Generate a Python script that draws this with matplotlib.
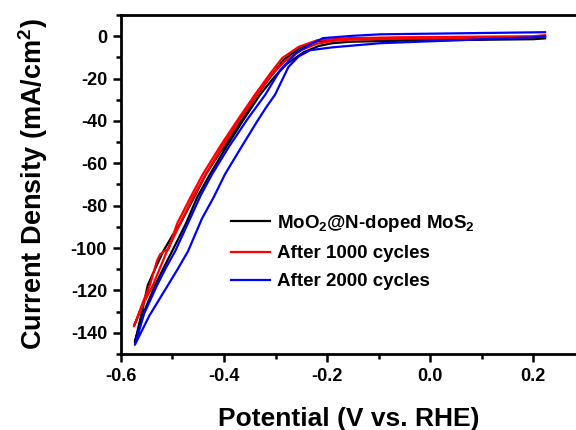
import numpy as np
import matplotlib
matplotlib.use("Agg")
import matplotlib.pyplot as plt
from matplotlib.ticker import MultipleLocator

plt.rcParams['font.family'] = ['Liberation Sans', 'DejaVu Sans']
plt.rcParams['font.weight'] = 'bold'
plt.rcParams['mathtext.fontset'] = 'custom'
plt.rcParams['mathtext.rm'] = 'Liberation Sans:bold'
plt.rcParams['mathtext.it'] = 'Liberation Sans:bold'
plt.rcParams['mathtext.bf'] = 'Liberation Sans:bold'

# sweep down (right branch) then back up (left branch), V vs RHE / mA cm-2
black_x = [0.223, 0.200, 0.050, -0.058, -0.155, -0.190, -0.216, -0.245, -0.278, -0.305, -0.330,
           -0.362, -0.395, -0.427, -0.452, -0.474, -0.501, -0.534, -0.555, -0.573,
           -0.560, -0.548, -0.534, -0.518, -0.500, -0.485, -0.460, -0.435, -0.400, -0.367,
           -0.336, -0.306, -0.284, -0.252, -0.217, -0.160, -0.058, 0.200, 0.223]
black_y = [-1.0, -1.4, -1.8, -2.1, -2.6, -3.3, -4.6, -7.5, -13.0, -20.0, -27.6,
           -39.3, -52.0, -65.1, -76.0, -88.5, -101.6, -117.6, -130.0, -144.5,
           -131.0, -117.6, -110.0, -101.6, -94.0, -88.5, -77.0, -65.1, -52.0, -39.3,
           -27.6, -18.0, -11.0, -5.5, -2.3, -1.3, -1.0, -0.8, -0.5]

red_x = [0.223, 0.200, 0.050, -0.058, -0.155, -0.190, -0.219, -0.250, -0.283, -0.310, -0.336,
         -0.369, -0.405, -0.435, -0.460, -0.485, -0.511, -0.538, -0.558, -0.575,
         -0.570, -0.558, -0.544, -0.530, -0.524, -0.516, -0.508, -0.491, -0.465, -0.441,
         -0.405, -0.373, -0.340, -0.310, -0.287, -0.255, -0.219, -0.155, -0.058, 0.200, 0.223]
red_y = [0.0, -0.5, -0.9, -1.2, -1.6, -2.3, -3.5, -6.5, -12.0, -19.0, -27.6,
         -39.3, -53.0, -65.1, -76.0, -88.5, -101.6, -117.6, -127.0, -137.0,
         -134.0, -126.0, -117.6, -106.0, -103.0, -101.5, -100.5, -88.5, -76.0, -65.1,
         -51.0, -39.3, -27.6, -17.5, -10.3, -5.0, -1.9, -0.9, -0.5, 0.0, 0.5]

blue_x = [0.223, 0.200, -0.097, -0.188, -0.233, -0.255, -0.275, -0.301, -0.318, -0.336, -0.368,
          -0.398, -0.420, -0.443, -0.470, -0.490, -0.509, -0.545, -0.573,
          -0.555, -0.530, -0.512, -0.495, -0.466, -0.445, -0.423, -0.390, -0.355,
          -0.320, -0.291, -0.260, -0.230, -0.208, -0.150, -0.097, 0.223]
blue_y = [0.0, -0.5, -3.3, -5.2, -6.6, -9.5, -14.5, -27.6, -33.5, -40.3, -53.0,
          -65.1, -76.0, -86.2, -101.6, -110.0, -117.6, -132.0, -145.7,
          -131.0, -117.6, -109.0, -101.6, -86.2, -75.0, -65.1, -52.0, -39.3,
          -27.6, -16.0, -8.0, -3.5, -0.9, 0.2, 0.9, 1.9]

labels = ['MoO$_2$@N-doped MoS$_2$', 'After 1000 cycles', 'After 2000 cycles']

fig = plt.figure(figsize=(5.76, 4.30), dpi=100)
ax = fig.add_axes([0.210, 0.177, 0.79, 0.788])

ax.plot(black_x, black_y, color='black', lw=1.6, label=labels[0])
ax.plot(red_x, red_y, color='red', lw=1.6, label=labels[1])
ax.plot(blue_x, blue_y, color='blue', lw=1.6, label=labels[2])

ax.set_xlim(-0.6, 0.283)
ax.set_ylim(-150, 10)
ax.xaxis.set_minor_locator(MultipleLocator(0.1))
ax.yaxis.set_minor_locator(MultipleLocator(10))
ax.set_xticks([-0.6, -0.4, -0.2, 0.0, 0.2])
ax.set_xticklabels(['-0.6', '-0.4', '-0.2', '0.0', '0.2'])
ax.set_yticks([0, -20, -40, -60, -80, -100, -120, -140])
ax.set_yticklabels(['0', '-20', '-40', '-60', '-80', '-100', '-120', '-140'])
ax.tick_params(which='major', direction='out', length=6, width=1.8, labelsize=13, pad=4)
ax.tick_params(which='minor', direction='out', length=3.5, width=1.8)
ax.spines['right'].set_visible(False)
for s in ['left', 'top', 'bottom']:
    ax.spines[s].set_linewidth(2)

ax.set_xlabel('Potential (V vs. RHE)', fontsize=19, fontweight='bold', labelpad=16)
ax.set_ylabel('Current Density (mA/cm$^2$)', fontsize=19.5, fontweight='bold', labelpad=15)

ax.legend(loc='lower left', bbox_to_anchor=(0.225, 0.165), frameon=False, fontsize=13.5,
          handlelength=2.1, handletextpad=0.35, labelspacing=0.6, borderaxespad=0)

fig.savefig('out.png', dpi=100)
